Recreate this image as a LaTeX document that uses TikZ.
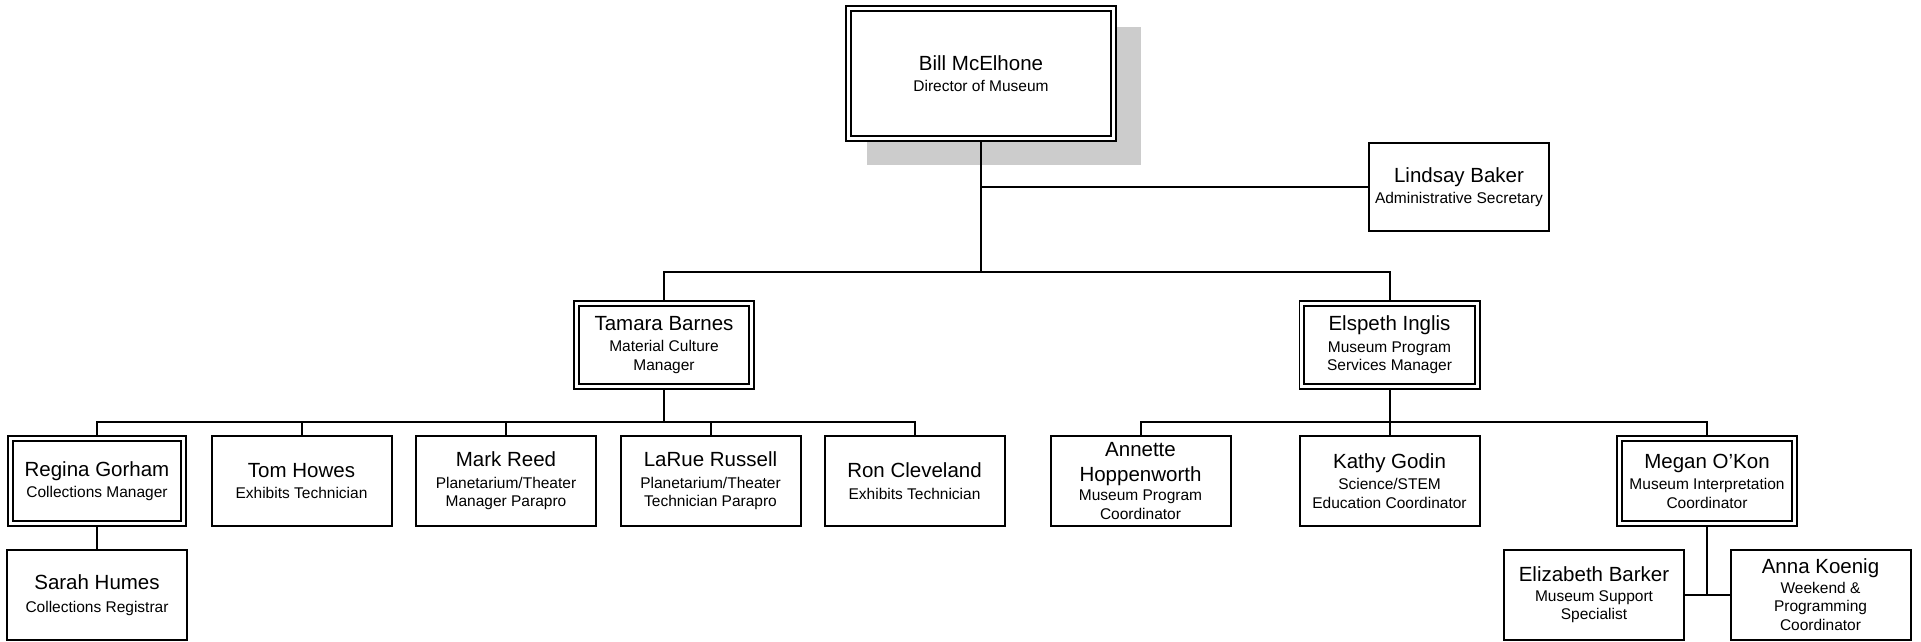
\documentclass[tikz,border=0pt]{standalone}
\usepackage{fontspec}
\setmainfont{Liberation Sans}
\usetikzlibrary{backgrounds}
\tikzset{
  box/.style={draw, line width=2pt, fill=white, rectangle, inner sep=0pt, outer sep=0pt,
    align=center, minimum width=180pt, minimum height=90pt,
    font=\fontsize{15.5}{18.5}\selectfont},
  dbox/.style={box, double, double distance=3.2pt, line width=1.7pt},
  conn/.style={line width=2pt},
  shadowfill/.style={fill=black!20},
}
\newcommand{\pname}[1]{{\fontsize{20.5}{22}\selectfont #1}}
\begin{document}
\begin{tikzpicture}[x=1pt,y=-1pt]
\useasboundingbox (0,0) rectangle (1921,642);
% nodes
\node[dbox, minimum width=265.4pt, minimum height=130.4pt] (bill) at (981,73.5)
  {\pname{Bill McElhone}\\[3pt]Director of Museum};
\node[box, minimum height=88pt] (lindsay) at (1459,187)
  {\pname{Lindsay Baker}\\[3pt]Administrative Secretary};
\node[dbox, minimum width=175.4pt, minimum height=83.4pt] (tamara) at (664,345)
  {\pname{Tamara Barnes}\\[3pt]Material Culture\\Manager};
\node[dbox, minimum width=175.4pt, minimum height=83.4pt] (elspeth) at (1389.5,345)
  {\pname{Elspeth Inglis}\\[3pt]Museum Program\\Services Manager};
\node[dbox, minimum width=173pt, minimum height=85.4pt] (regina) at (97,481)
  {\pname{Regina Gorham}\\[3pt]Collections Manager};
\node[box] (tom) at (301.5,481)
  {\pname{Tom Howes}\\[3pt]Exhibits Technician};
\node[box] (mark) at (506,481)
  {\pname{Mark Reed}\\[3pt]Planetarium/Theater\\Manager Parapro};
\node[box] (larue) at (710.5,481)
  {\pname{LaRue Russell}\\[3pt]Planetarium/Theater\\Technician Parapro};
\node[box] (ron) at (914.5,481)
  {\pname{Ron Cleveland}\\[3pt]Exhibits Technician};
\node[box] (annette) at (1140.5,481)
  {\pname{Annette}\\[6.5pt]\pname{Hoppenworth}\\[0.5pt]Museum Program\\Coordinator};
\node[box] (kathy) at (1389.5,481)
  {\pname{Kathy Godin}\\[3pt]Science/STEM\\Education Coordinator};
\node[dbox, minimum width=175.4pt, minimum height=85.4pt] (megan) at (1707,481)
  {\pname{Megan O’Kon}\\[3pt]Museum Interpretation\\Coordinator};
\node[box] (sarah) at (97,595)
  {\pname{Sarah Humes}\\[5pt]Collections Registrar};
\node[box] (elizabeth) at (1594,594.5)
  {\pname{Elizabeth Barker}\\[1.5pt]Museum Support\\Specialist};
\node[box] (anna) at (1820.5,594.5)
  {\pname{Anna Koenig}\\[1.5pt]Weekend \&\\Programming\\Coordinator};
\coordinate (yA) at (0,272);
\coordinate (yB) at (0,422);
\begin{pgfonlayer}{background}
\fill[shadowfill] ([shift={(19,19)}]bill.north west) rectangle ([shift={(27,26)}]bill.south east);
\draw[conn] (bill.south) -- (bill.south |- yA);
\draw[conn] (bill.south |- lindsay.west) -- (lindsay.west);
\draw[conn] (tamara.north) |- (bill.south |- yA) -| (elspeth.north);
\draw[conn] (tamara.south) -- (tamara.south |- yB);
\draw[conn] (regina.north) |- (tamara.south |- yB) -| (ron.north);
\draw[conn] (tom.north) -- (tom.north |- yB);
\draw[conn] (mark.north) -- (mark.north |- yB);
\draw[conn] (larue.north) -- (larue.north |- yB);
\draw[conn] (regina.south) -- (sarah.north);
\draw[conn] (elspeth.south) -- (elspeth.south |- yB);
\draw[conn] (annette.north) |- (elspeth.south |- yB) -| (megan.north);
\draw[conn] (kathy.north) -- (kathy.north |- yB);
\draw[conn] (megan.south) -- (megan.south |- elizabeth.east);
\draw[conn] (elizabeth.east) -- (anna.west);
\end{pgfonlayer}
\end{tikzpicture}
\end{document}
